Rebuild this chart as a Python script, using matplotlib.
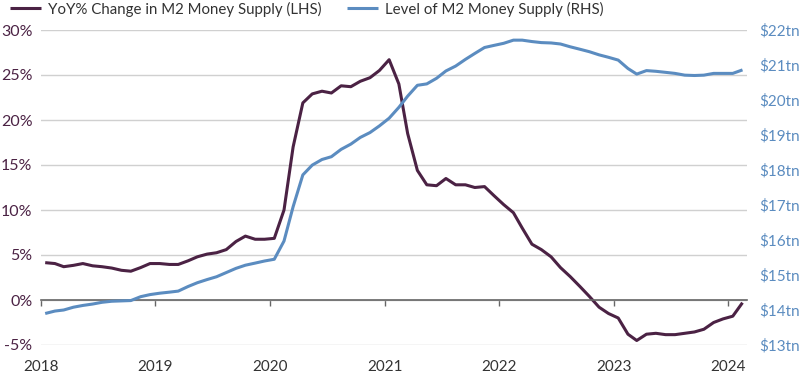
import numpy as np
import pandas as pd
import matplotlib
matplotlib.use("Agg")
import matplotlib.pyplot as plt
import matplotlib.dates as mdates

plt.rcParams['font.family'] = ['Lato', 'DejaVu Sans']

# monthly data, Jan 2018 - Feb 2024
months = pd.date_range('2018-01-01', periods=74, freq='MS') + pd.Timedelta(days=14)

yoy_pct = [4.15, 4.05, 3.7, 3.85, 4.05, 3.8, 3.7, 3.55, 3.3, 3.2, 3.6, 4.05,
           4.05, 3.95, 3.95, 4.35, 4.8, 5.1, 5.25, 5.6, 6.5, 7.1, 6.75, 6.75,
           6.85, 10.0, 17.0, 21.9, 22.9, 23.2, 23.0, 23.8, 23.7, 24.3, 24.7, 25.5,
           26.7, 24.0, 18.5, 14.4, 12.8, 12.7, 13.5, 12.8, 12.8, 12.5, 12.6, 11.6,
           10.6, 9.7, 8.0, 6.2, 5.6, 4.8, 3.6, 2.6, 1.5, 0.4, -0.8, -1.5,
           -2.0, -3.8, -4.5, -3.8, -3.7, -3.85, -3.85, -3.7, -3.55, -3.25, -2.5, -2.1,
           -1.8, -0.3]

m2_level = [13.9, 13.97, 14.0, 14.08, 14.13, 14.17, 14.22, 14.25, 14.26, 14.27, 14.38, 14.44,
            14.48, 14.51, 14.54, 14.67, 14.78, 14.87, 14.95, 15.07, 15.19, 15.28, 15.34, 15.4,
            15.45, 15.97, 16.95, 17.86, 18.14, 18.3, 18.38, 18.59, 18.74, 18.93, 19.07, 19.26,
            19.48, 19.79, 20.11, 20.42, 20.46, 20.62, 20.83, 20.97, 21.16, 21.33, 21.5, 21.56,
            21.62, 21.71, 21.71, 21.67, 21.64, 21.63, 21.6, 21.52, 21.45, 21.38, 21.29, 21.22,
            21.14, 20.9, 20.74, 20.84, 20.82, 20.79, 20.76, 20.71, 20.7, 20.71, 20.76, 20.76,
            20.76, 20.86]

left_ticks = [-5, 0, 5, 10, 15, 20, 25, 30]
right_ticks = [13, 14, 15, 16, 17, 18, 19, 20, 21, 22]
years = [2018, 2019, 2020, 2021, 2022, 2023, 2024]

purple = '#4b2244'
blue = '#5b8cc0'

fig = plt.figure(figsize=(8, 3.75), dpi=100)
ax = fig.add_axes([0.051, 0.08, 0.883, 0.84])
ax2 = ax.twinx()

l1, = ax.plot(months, yoy_pct, color=purple, lw=2.2, solid_capstyle='butt',
              label='YoY% Change in M2 Money Supply (LHS)')
l2, = ax2.plot(months, m2_level, color=blue, lw=2.2, solid_capstyle='butt',
               label='Level of M2 Money Supply (RHS)')

ax.set_ylim(-5, 30)
ax.set_yticks(left_ticks)
ax.set_yticklabels([f'{t}%' for t in left_ticks])
ax2.set_ylim(13, 22)
ax2.set_yticks(right_ticks)
ax2.set_yticklabels([f'${t}tn' for t in right_ticks])

ax.set_xlim(pd.Timestamp('2018-01-01'), pd.Timestamp('2024-03-01'))
ax.set_xticks([pd.Timestamp(f'{y}-01-01') for y in years])
ax.xaxis.set_major_formatter(mdates.DateFormatter('%Y'))

ax.grid(axis='y', color='#d0d0d0', lw=1)
ax.set_axisbelow(True)
for a in (ax, ax2):
    for s in ('top', 'left', 'right'):
        a.spines[s].set_visible(False)
ax2.spines['bottom'].set_visible(False)
ax.spines['bottom'].set_position(('data', 0))
ax.spines['bottom'].set_color('#666666')
ax.spines['bottom'].set_linewidth(1.2)

ax.tick_params(axis='y', length=0, pad=6, labelsize=11.5, labelcolor=purple)
ax2.tick_params(axis='y', length=0, pad=9, labelsize=11, labelcolor=blue)
ax.tick_params(axis='x', length=4, width=1, color='#666666', pad=39,
               labelsize=11, labelcolor='#333333')

fig.legend(handles=[l1, l2], loc='upper left', bbox_to_anchor=(-0.005, 1.032),
           ncol=2, frameon=False, fontsize=10.8, handlelength=2.1,
           handletextpad=0.45, columnspacing=1.7, labelcolor='#333333')

fig.savefig('out.png', dpi=100)
